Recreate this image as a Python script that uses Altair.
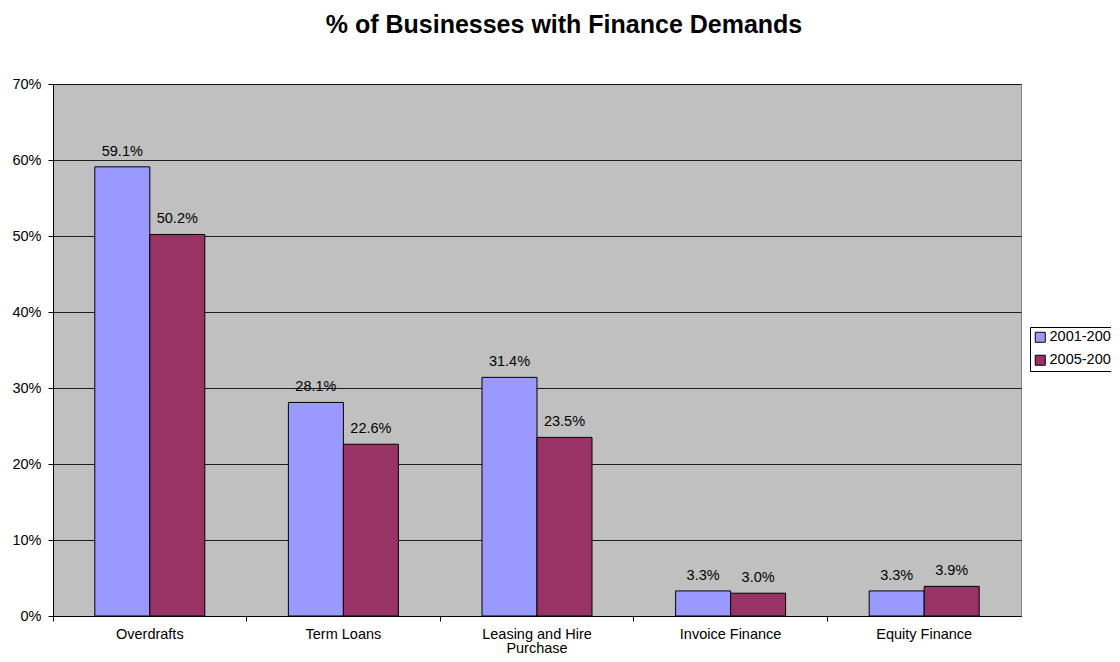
import altair as alt
import pandas as pd

categories = ["Overdrafts", "Term Loans", "Leasing and Hire Purchase", "Invoice Finance", "Equity Finance"]
series = ["2001-2004", "2005-2008"]
values_2001_2004 = [0.591, 0.281, 0.314, 0.033, 0.033]
values_2005_2008 = [0.502, 0.226, 0.235, 0.030, 0.039]

rows = []
for i, c in enumerate(categories):
    rows.append({"category": c, "period": series[0], "value": values_2001_2004[i]})
    rows.append({"category": c, "period": series[1], "value": values_2005_2008[i]})
df = pd.DataFrame(rows)

FONT = "Liberation Sans"
FS = 14.5

x = alt.X("category:N", sort=categories, title=None,
          scale=alt.Scale(paddingInner=0, paddingOuter=0),
          axis=alt.Axis(labelAngle=0, bandPosition=0, ticks=True, tickSize=5,
                        tickColor="black", domainColor="black", labelFontSize=FS,
                        labelFont=FONT, labelColor="black", labelPadding=6,
                        labelLineHeight=14,
                        labelExpr="datum.label == 'Leasing and Hire Purchase' ? ['Leasing and Hire', 'Purchase'] : datum.label"))
xo = alt.XOffset("period:N", sort=series,
                 scale=alt.Scale(paddingInner=0, paddingOuter=0.76))
y = alt.Y("value:Q", title=None,
          scale=alt.Scale(domain=[0, 0.7], nice=False),
          axis=alt.Axis(format=".0%", values=[0, 0.1, 0.2, 0.3, 0.4, 0.5, 0.6, 0.7],
                        tickSize=5, tickColor="black", domainColor="black",
                        gridColor="black", gridOpacity=0.85, labelFontSize=FS, labelFont=FONT,
                        labelColor="black", labelPadding=7))

color = alt.Color("period:N", sort=series, title=None,
                  scale=alt.Scale(domain=series, range=["#9999FF", "#993366"]),
                  legend=alt.Legend(orient="none", legendX=977, legendY=243,
                                    symbolType="square", symbolSize=100,
                                    symbolStrokeColor="black", symbolStrokeWidth=1,
                                    labelFontSize=FS, labelFont=FONT, labelColor="black",
                                    strokeColor="black", padding=3, rowPadding=7,
                                    labelOffset=2,
                                    fillColor="white", labelLimit=200))

bars = alt.Chart(df).mark_bar(stroke="black", strokeWidth=1).encode(
    x=x, xOffset=xo, y=y, color=color
)
labels = alt.Chart(df).mark_text(baseline="alphabetic", dy=-11, fontSize=FS, font=FONT, color="black").encode(
    x=alt.X("category:N", sort=categories), xOffset=xo, y="value:Q",
    text=alt.Text("value:Q", format=".1%")
)

chart = alt.layer(bars, labels).properties(
    width=968, height=532,
    background="white",
    title=alt.TitleParams("% of Businesses with Finance Demands", fontSize=25, font=FONT,
                          fontWeight="bold", color="black", offset=38, dx=27, anchor="middle"),
    autosize=alt.AutoSizeParams(type="none"),
    padding={"left": 45, "top": 76, "right": 90, "bottom": 38},
).configure_view(
    fill="#C0C0C0", stroke="#808080", strokeWidth=1
)

chart.save("out.html", embed_options={"renderer": "svg", "actions": False})
